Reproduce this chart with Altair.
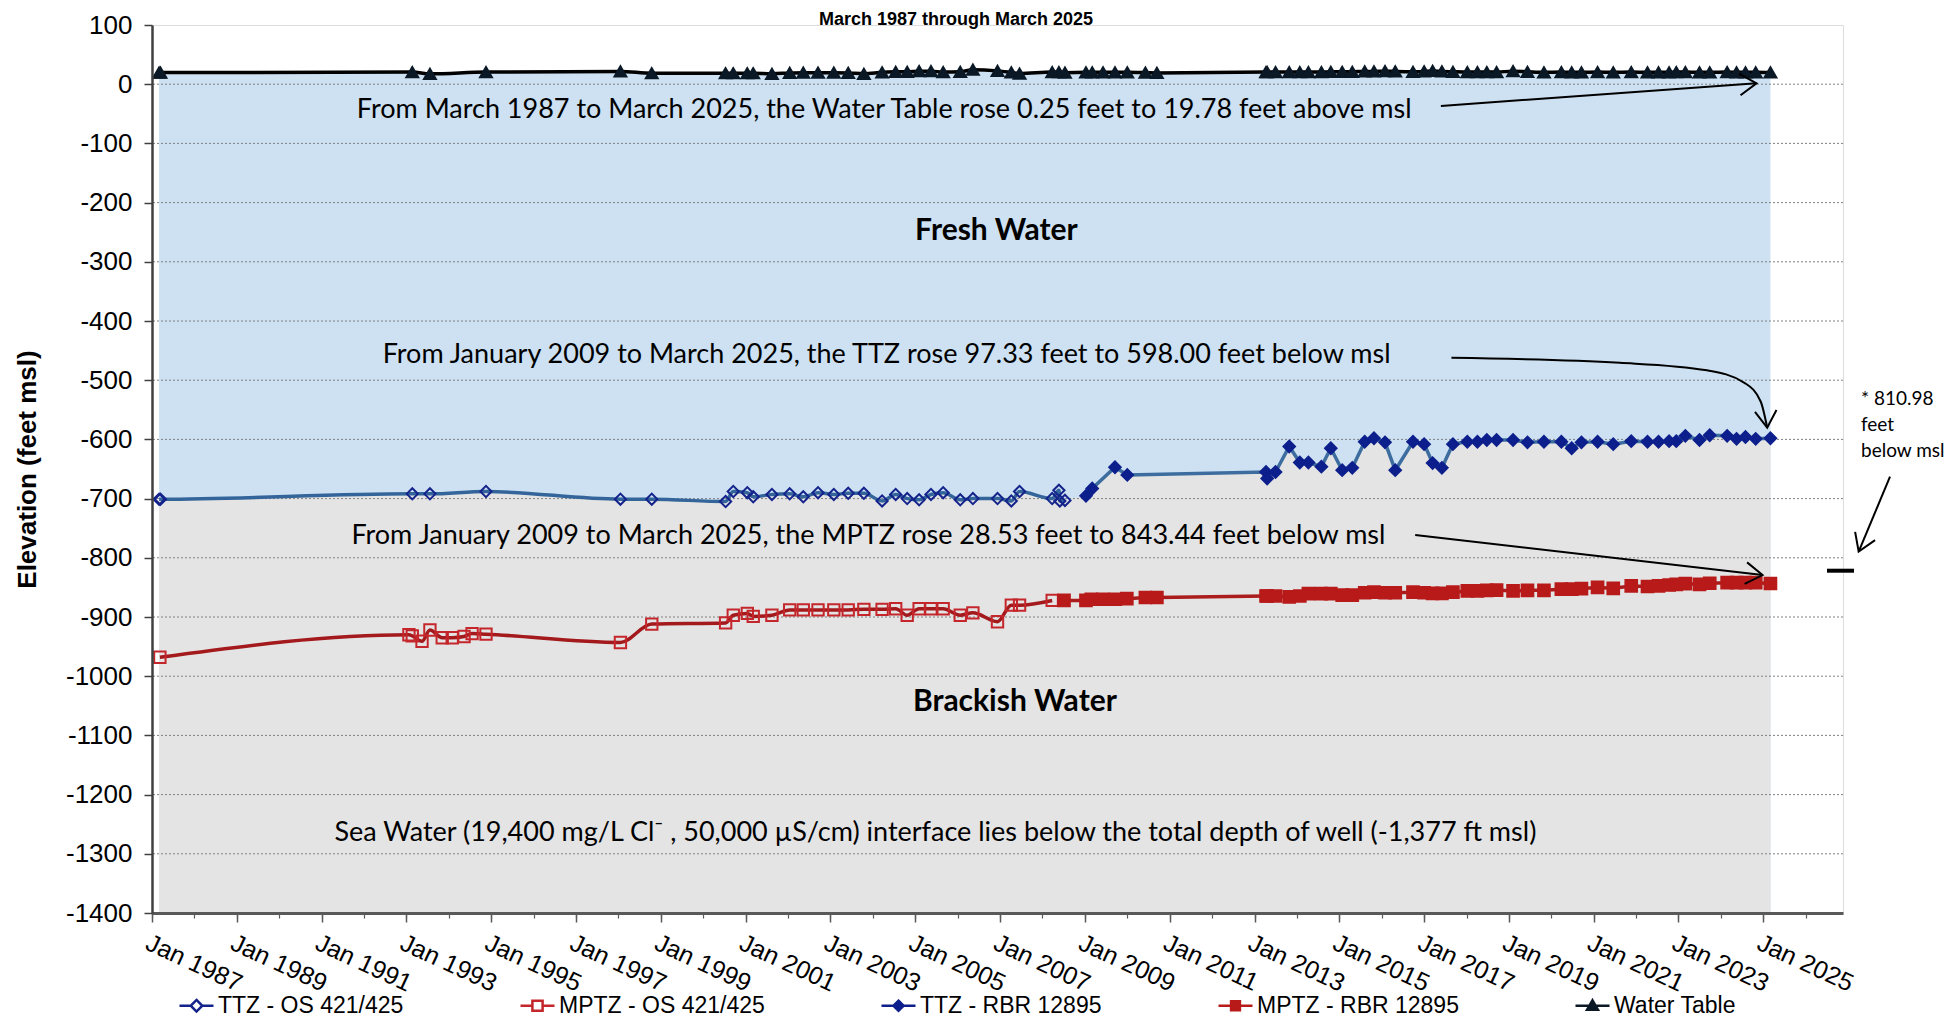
import altair as alt
import pandas as pd

# ---------------- data ----------------
S_TTZ_OS = "TTZ - OS 421/425"
S_MPTZ_OS = "MPTZ - OS 421/425"
S_TTZ_RBR = "TTZ - RBR 12895"
S_MPTZ_RBR = "MPTZ - RBR 12895"
S_WT = "Water Table"
series_names = [S_TTZ_OS, S_MPTZ_OS, S_TTZ_RBR, S_MPTZ_RBR, S_WT]

ttz_os_dates = ["1987-03-03", "1987-03-15", "1993-02-20", "1993-07-22", "1994-11-17",
                "1998-01-18", "1998-10-15", "2000-07-12", "2000-09-16", "2001-01-15",
                "2001-03-07", "2001-08-15", "2002-01-15", "2002-05-12", "2002-09-16",
                "2003-01-30", "2003-06-03", "2003-10-16", "2004-03-21", "2004-07-16",
                "2004-10-23", "2005-02-03", "2005-05-16", "2005-08-29", "2006-01-23",
                "2006-05-12", "2006-12-10", "2007-04-08", "2007-06-18", "2008-03-25",
                "2008-05-22", "2008-05-30", "2008-07-13"]
ttz_os_values = [-701, -701, -692, -692, -688, -701, -701, -705, -688, -690, -697, -693,
                 -692, -697, -690, -693, -691, -691, -704, -693, -700, -702, -693, -690,
                 -702, -700, -700, -704, -688, -700, -686, -704, -703]

mptz_os_dates = ["1987-03-10", "1993-01-22", "1993-02-20", "1993-05-15", "1993-07-22",
                 "1993-11-05", "1994-01-30", "1994-05-12", "1994-07-20", "1994-11-17",
                 "1998-01-18", "1998-10-15", "2000-07-12", "2000-09-16", "2001-01-15",
                 "2001-03-07", "2001-08-15", "2002-01-15", "2002-05-12", "2002-09-16",
                 "2003-01-30", "2003-06-03", "2003-10-16", "2004-03-21", "2004-07-16",
                 "2004-10-23", "2005-02-03", "2005-05-16", "2005-08-29", "2006-01-23",
                 "2006-05-12", "2006-12-10", "2007-04-08", "2007-06-18", "2008-03-25"]
mptz_os_values = [-968, -930, -932, -941, -922, -935, -935, -933, -928, -929, -943, -912,
                  -910, -897, -894, -899, -897, -888, -888, -888, -888, -888, -887, -887,
                  -886, -897, -886, -886, -886, -897, -893, -908, -880, -880, -872]

rbr_dates = ["2013-04-10", "2013-04-20", "2013-07-01", "2013-10-27", "2014-01-26",
             "2014-04-10", "2014-07-31", "2014-10-20", "2015-01-26", "2015-04-23",
             "2015-08-08", "2015-10-27", "2016-01-30", "2016-04-27", "2016-09-27",
             "2017-01-01", "2017-03-15", "2017-06-03", "2017-09-06", "2018-01-08",
             "2018-04-05", "2018-06-25", "2018-09-17", "2019-02-06", "2019-06-10",
             "2019-10-30", "2020-03-28", "2020-06-25", "2020-09-17", "2021-02-03",
             "2021-06-18", "2021-11-20", "2022-04-09", "2022-07-13", "2022-10-12",
             "2022-12-13", "2023-03-01", "2023-07-01", "2023-09-27", "2024-02-24",
             "2024-05-15", "2024-07-31", "2024-10-27", "2025-03-03"]

ttz_rbr_early_dates = ["2009-01-10", "2009-03-05", "2009-09-17", "2010-01-01"]
ttz_rbr_early_values = [-695.33, -683, -647, -660]
ttz_rbr_values = [-655, -666, -655, -612, -639, -639, -646, -615, -652, -648, -604, -598,
                  -605, -652, -604, -608, -640, -648, -608, -604, -604, -601, -601, -601,
                  -605, -604, -604, -615, -605, -604, -608, -603, -604, -604, -603, -603,
                  -594, -601, -593, -594, -599, -596, -599, -598.00]

mptz_rbr_early_dates = ["2008-07-05", "2009-01-10", "2009-02-25", "2009-06-06",
                        "2009-09-20", "2009-12-28", "2010-06-06", "2010-09-13"]
mptz_rbr_early_values = [-872, -871.97, -870, -870, -870, -869, -867, -867]
mptz_rbr_values = [-864.5, -864.5, -864.5, -866, -864.5, -860.5, -860.5, -860.5, -863, -863,
                   -859, -858, -859, -859, -858, -859, -860, -860, -858, -856, -856, -855,
                   -854.5, -856, -855, -855, -853, -853, -852, -850, -851.5, -847.5, -848.5,
                   -847.5, -846, -845, -843.5, -845, -843, -842, -842, -842, -842, -843.44]

wt_early_dates = ["1987-03-03", "1987-03-15", "1993-02-20", "1993-07-22", "1994-11-17",
                  "1998-01-18", "1998-10-15", "2000-07-12", "2000-09-16", "2001-01-15",
                  "2001-03-07", "2001-08-15", "2002-01-15", "2002-05-12", "2002-09-16",
                  "2003-01-30", "2003-06-03", "2003-10-16", "2004-03-21", "2004-07-16",
                  "2004-10-23", "2005-02-03", "2005-05-16", "2005-08-29", "2006-01-23",
                  "2006-05-12", "2006-12-10", "2007-04-08", "2007-06-18", "2008-03-25",
                  "2008-05-22", "2008-07-13", "2009-01-10", "2009-03-05", "2009-06-06",
                  "2009-09-17", "2010-01-01", "2010-06-06", "2010-09-13"]
wt_early_values = [19.53, 19.6, 20.5, 17.5, 20.5, 21.5, 18.5, 18.5, 18.5, 18.5, 18.5, 17.5,
                   19.0, 19.5, 19.5, 19.5, 19.0, 17.5, 20.0, 21.0, 21.0, 22.0, 22.0, 20.5,
                   21.0, 24.5, 22.5, 20.0, 18.0, 20.5, 20.5, 19.5, 20.0, 20.0, 20.0, 20.0,
                   20.0, 19.5, 19.0]
wt_rbr_values = [20.5, 20.5, 20.5, 20.5, 20.5, 20.5, 20.5, 21.0, 21.0, 21.0, 21.5, 21.5,
                 22.0, 21.5, 21.0, 21.5, 22.5, 21.5, 21.0, 20.5, 20.5, 20.5, 20.5, 22.0,
                 21.0, 20.0, 20.5, 20.0, 20.0, 20.5, 20.0, 20.5, 20.0, 20.0, 20.0, 20.5,
                 20.5, 20.0, 20.0, 20.5, 20.0, 20.0, 20.0, 19.78]

y_ticks = [-1400, -1300, -1200, -1100, -1000, -900, -800, -700, -600, -500, -400, -300,
           -200, -100, 0, 100]
grid_values = [-1300, -1200, -1100, -1000, -900, -800, -700, -600, -500, -400, -300,
               -200, -100, 0]
major_years = [1987, 1989, 1991, 1993, 1995, 1997, 1999, 2001, 2003, 2005, 2007, 2009,
               2011, 2013, 2015, 2017, 2019, 2021, 2023, 2025]
minor_years = list(range(1987, 2027))

# annotations (positions in data coordinates)
note_texts = ["From March 1987 to March 2025, the Water Table rose 0.25 feet to 19.78 feet above msl",
              "From January 2009 to March 2025, the TTZ rose 97.33 feet to 598.00 feet below msl",
              "From January 2009 to March 2025, the MPTZ rose 28.53 feet to 843.44 feet below msl",
              "Sea Water (19,400 mg/L Cl\u207b , 50,000 \u00b5S/cm) interface lies below the total depth of well (-1,377 ft msl)"]
note_dates = ["2004-04-08", "2004-04-29", "2003-11-24", "2005-06-23"]
note_values = [-43.1, -457.9, -763.3, -1264.7]

zone_texts = ["Fresh Water", "Brackish Water"]
zone_dates = ["2006-12-01", "2007-05-09"]
zone_values = [-247.5, -1043.6]

side_texts = ["* 810.98", "feet", "below msl"]
side_dates = ["2027-04-22", "2027-04-22", "2027-04-22"]
side_values = [-531.8, -575.7, -619.6]

title_text = ["March 1987 through March 2025"]
title_dates = ["2005-12-17"]
title_values = [100.5]

arrow_start_dates = ["2017-05-25", "2016-10-16", "2027-12-28"]
arrow_start_values = [-36.8, -761.5, -663.0]
arrow_end_dates = ["2024-11-03", "2024-12-25", "2027-04-02"]
arrow_end_values = [1.5, -829.1, -789.5]

curve_dates = ["2017-08-24", "2021-08-14", "2023-09-03", "2024-07-22", "2024-12-09", "2025-02-03"]
curve_values = [-462.2, -470.6, -483.3, -504.4, -536.0, -580.1]

head_dates = ["2024-11-03", "2025-02-03", "2024-12-25", "2027-04-02"]
head_values = [1.5, -580.1, -829.1, -789.5]
head_angles = [355.9, 85, 6.6, 112.5]

dash_dates = ["2026-07-03"]
dash_end_dates = ["2027-02-21"]
dash_values = [-821.8]

# ---------------- styles ----------------
line_colors = ["#34659a", "#a3191c", "#3d6d9f", "#ab1c1c", "#000000"]
marker_strokes = ["#14238c", "#c4262b", "#0c1f8c", "#b81a1a", "#0b1826"]
marker_fills = ["transparent", "transparent", "#0c1f8c", "#b81a1a", "#0b1826"]
legend_fills = ["white", "white", "#0c1f8c", "#b81a1a", "#0b1826"]
marker_shapes = ["diamond", "square", "diamond", "square", "triangle-up"]
marker_sizes = [125, 140, 80, 85, 65]
marker_widths = [2, 2, 1, 1, 1]
legend_paths = [
    "M-1,0H-0.34M0.34,0H1M0,-0.34L0.34,0L0,0.34L-0.34,0Z",
    "M-1,0H-0.3M0.3,0H1M-0.3,-0.3H0.3V0.3H-0.3Z",
    "M-1,0H1M0,-0.3L0.3,0L0,0.3L-0.3,0Z",
    "M-1,0H1M-0.26,-0.26H0.26V0.26H-0.26Z",
    "M-1,0H1M0,-0.32L0.32,0.24H-0.32Z",
]
CHEVRON = "M-1.4,-0.9L0,0L-1.4,0.9"
AX = "Liberation Sans"
NOTE = "Lato"

# ---------------- frames ----------------
def frame(dates, values, name):
    return pd.DataFrame({"date": dates, "value": values, "series": name})

ttz_os = frame(ttz_os_dates, ttz_os_values, S_TTZ_OS)
mptz_os = frame(mptz_os_dates, mptz_os_values, S_MPTZ_OS)
ttz_rbr = frame(ttz_rbr_early_dates + rbr_dates, ttz_rbr_early_values + ttz_rbr_values, S_TTZ_RBR)
mptz_rbr = frame(mptz_rbr_early_dates + rbr_dates, mptz_rbr_early_values + mptz_rbr_values, S_MPTZ_RBR)
wt = frame(wt_early_dates + rbr_dates, wt_early_values + wt_rbr_values, S_WT)
points = pd.concat([ttz_os, mptz_os, ttz_rbr, mptz_rbr, wt], ignore_index=True)
ttz_all = pd.concat([ttz_os, ttz_rbr], ignore_index=True).sort_values("date")

xscale = alt.Scale(type="utc", domain=[alt.DateTime(year=1987, month=1, date=1, utc=True),
                                       alt.DateTime(year=2026, month=11, date=18, utc=True)])
yscale = alt.Scale(domain=[-1400, 100], nice=False, zero=False)

def X(field="date", axis=None):
    return alt.X(f"{field}:T", scale=xscale, axis=axis)

def Y(field="value", axis=None):
    return alt.Y(f"{field}:Q", scale=yscale, axis=axis)

y_axis = alt.Axis(orient="left", values=y_ticks, grid=False, title="Elevation (feet msl)",
                  labelExpr="'' + datum.value", zindex=1,
                  domainColor="#404040", domainWidth=2.5, tickColor="#404040", tickWidth=1.5,
                  tickSize=8, labelFont=AX, labelFontSize=26, labelColor="black", labelPadding=12,
                  titleFont=AX, titleFontSize=26, titleFontWeight="bold", titleColor="black",
                  titleX=-125, titleY=444, titleAngle=270, titleAlign="center",
                  titleBaseline="middle")
x_major = alt.Axis(orient="bottom", zindex=1,
                   values=[alt.DateTime(year=y, month=1, date=1, utc=True) for y in major_years],
                   labelExpr="'Jan ' + utcFormat(datum.value, '%Y')", labelAngle=25,
                   labelAlign="left", labelBaseline="top", labelFont=AX, labelFontSize=25,
                   labelColor="black", labelPadding=8, labelOverlap=False, labelFlush=False,
                   labelBound=False, tickSize=9, tickColor="#595959", tickWidth=1.5,
                   domainColor="#595959", domainWidth=3, grid=False, title=None)
x_minor = alt.Axis(orient="bottom", zindex=1,
                   values=[alt.DateTime(year=y, month=1, date=1, utc=True) for y in minor_years],
                   labels=False, domain=False, grid=False, tickSize=5, tickColor="#595959",
                   tickWidth=1.2, title=None)

fresh = alt.Chart(wt).mark_area(color="#cde1f2", interpolate="monotone").encode(
    x=X(axis=x_minor), y=Y(axis=y_axis), y2=alt.datum(-1400))
brack = alt.Chart(ttz_all).mark_area(color="#e4e4e4", interpolate="linear").encode(
    x=X(axis=x_major), y=Y(), y2=alt.datum(-1400))
grid = alt.Chart(pd.DataFrame({"tick": grid_values})).mark_rule(
    color="#808080", strokeWidth=1, strokeDash=[2, 2]).encode(y=Y("tick"))

line_color = alt.Color("series:N", scale=alt.Scale(domain=series_names, range=line_colors), legend=None)
smooth_lines = alt.Chart(points).transform_filter(
    alt.FieldOneOfPredicate(field="series", oneOf=[S_TTZ_OS, S_MPTZ_OS, S_WT])
).mark_line(strokeWidth=3.5, interpolate="monotone").encode(x=X(), y=Y(), color=line_color)
straight_lines = alt.Chart(points).transform_filter(
    alt.FieldOneOfPredicate(field="series", oneOf=[S_TTZ_RBR, S_MPTZ_RBR])
).mark_line(strokeWidth=3.5).encode(x=X(), y=Y(), color=line_color)

markers = alt.Chart(points).mark_point(opacity=1).encode(
    x=X(), y=Y(),
    shape=alt.Shape("series:N", scale=alt.Scale(domain=series_names, range=marker_shapes), legend=None),
    fill=alt.Fill("series:N", scale=alt.Scale(domain=series_names, range=marker_fills), legend=None),
    stroke=alt.Stroke("series:N", scale=alt.Scale(domain=series_names, range=marker_strokes), legend=None),
    size=alt.Size("series:N", scale=alt.Scale(domain=series_names, range=marker_sizes), legend=None),
    strokeWidth=alt.StrokeWidth("series:N", scale=alt.Scale(domain=series_names, range=marker_widths), legend=None),
)

notes = alt.Chart(pd.DataFrame({"t": note_texts, "date": note_dates, "value": note_values})).mark_text(
    font=NOTE, fontSize=27, color="black", align="center", baseline="middle").encode(
    x=X(), y=Y(), text="t:N")
zones = alt.Chart(pd.DataFrame({"t": zone_texts, "date": zone_dates, "value": zone_values})).mark_text(
    font=NOTE, fontSize=30, fontWeight="bold", color="black", align="center", baseline="middle").encode(
    x=X(), y=Y(), text="t:N")
side = alt.Chart(pd.DataFrame({"t": side_texts, "date": side_dates, "value": side_values})).mark_text(
    font=NOTE, fontSize=19, color="black", align="left", baseline="middle").encode(
    x=X(), y=Y(), text="t:N")
top_title = alt.Chart(pd.DataFrame({"t": title_text, "date": title_dates, "value": title_values})).mark_text(
    font=AX, fontSize=18, fontWeight="bold", color="black", align="center", baseline="alphabetic").encode(
    x=X(), y=Y(), text="t:N")

arrows = alt.Chart(pd.DataFrame({"date": arrow_start_dates, "value": arrow_start_values,
                                 "date2": arrow_end_dates, "value2": arrow_end_values})).mark_rule(
    color="black", strokeWidth=2).encode(x=X(), y=Y(), x2="date2:T", y2="value2:Q")
curve = alt.Chart(pd.DataFrame({"date": curve_dates, "value": curve_values})).mark_line(
    color="black", strokeWidth=2, interpolate="monotone").encode(x=X(), y=Y())
heads = alt.Chart(pd.DataFrame({"date": head_dates, "value": head_values, "a": head_angles})).mark_point(
    shape=CHEVRON, size=576, filled=False, color="black", strokeWidth=2, opacity=1).encode(
    x=X(), y=Y(), angle=alt.Angle("a:Q", scale=None))
dash = alt.Chart(pd.DataFrame({"date": dash_dates, "date2": dash_end_dates, "value": dash_values})).mark_rule(
    color="black", strokeWidth=4).encode(x=X(), x2="date2:T", y=Y())

legend_def = alt.Legend(orient="none", legendX=26, legendY=962, direction="horizontal", title=None,
                        symbolSize=1156, symbolStrokeWidth=2.5, labelFont=AX, labelFontSize=23,
                        labelColor="black", columnPadding=111, labelOffset=3, symbolOpacity=1,
                        labelLimit=500)
legend_layer = alt.Chart(pd.DataFrame({"series": series_names})).transform_filter("false").mark_point().encode(
    shape=alt.Shape("series:N", scale=alt.Scale(domain=series_names, range=legend_paths), legend=legend_def),
    fill=alt.Fill("series:N", scale=alt.Scale(domain=series_names, range=legend_fills), legend=legend_def),
    stroke=alt.Stroke("series:N", scale=alt.Scale(domain=series_names, range=marker_strokes), legend=legend_def),
)

chart = alt.layer(
    fresh, brack, grid, smooth_lines, straight_lines, markers,
    notes, zones, side, top_title, arrows, curve, heads, dash, legend_layer
).resolve_scale(
    shape="independent", fill="independent", stroke="independent", size="independent",
    strokeWidth="independent", color="independent"
).resolve_axis(x="independent", y="independent").properties(
    width=1691, height=888,
    autosize=alt.AutoSizeParams(type="none"),
    padding={"left": 144, "top": 17, "right": 104, "bottom": 105},
).configure_view(stroke="#8c8c8c", strokeWidth=3).configure(background="white")

chart.save("out.html", embed_options={"renderer": "svg", "actions": False})
